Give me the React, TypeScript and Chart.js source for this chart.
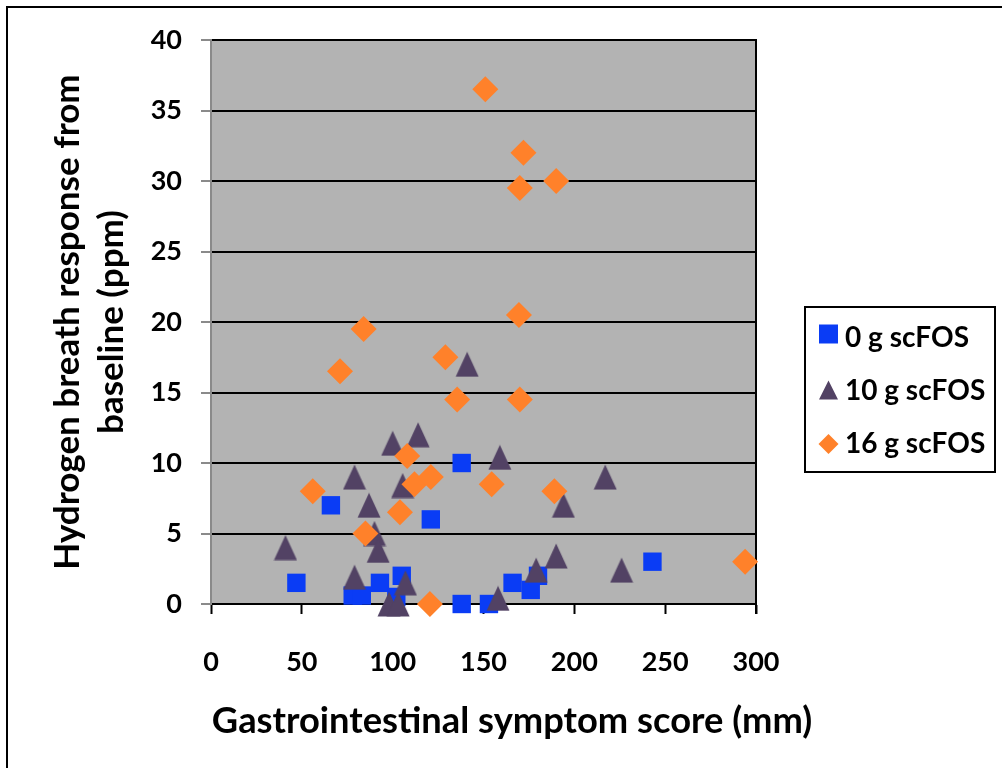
import React, { useEffect, useRef } from "react";
import { Chart, registerables } from "chart.js";

Chart.register(...registerables);

const seriesLabels = ["0 g scFOS", "10 g scFOS", "16 g scFOS"];
const seriesColors = ["#0A3CF5", "#524264", "#FF812A"];

const xTitle = "Gastrointestinal symptom score (mm)";
const yTitle = ["Hydrogen breath response from", "baseline (ppm)"];

const xTickValues = [0, 50, 100, 150, 200, 250, 300];
const yTickValues = [0, 5, 10, 15, 20, 25, 30, 35, 40];

const fos0X = [47, 66, 78, 83, 93, 102, 105, 121, 138, 138, 153, 166, 176, 180, 243];
const fos0Y = [1.5, 7, 0.6, 0.6, 1.5, 0.5, 2.0, 6, 10, 0, 0, 1.5, 1.0, 2.0, 3];

const fos10X = [41, 79, 79, 87, 90, 92, 98, 100, 103, 105.5, 107, 114, 141, 158, 159, 179, 190, 194, 217, 226];
const fos10Y = [4, 9, 1.9, 7, 5, 3.8, 0, 11.4, 0, 8.4, 1.5, 12, 17, 0.4, 10.4, 2.4, 3.4, 7, 9, 2.4];

const fos16X = [56, 71, 84, 85, 104, 108, 112, 120.5, 121, 129, 135.5, 151, 154.5, 169.5, 170, 170, 172, 189, 190, 294];
const fos16Y = [8, 16.5, 19.5, 5, 6.5, 10.5, 8.5, 0, 9, 17.5, 14.5, 36.5, 8.5, 20.5, 14.5, 29.5, 32, 8, 30, 3];

const FONT = "Lato";

function makeTriangle(w: number, h: number, color: string) {
  const c = document.createElement("canvas");
  c.width = w;
  c.height = h;
  const ctx = c.getContext("2d")!;
  ctx.fillStyle = color;
  ctx.beginPath();
  ctx.moveTo(w / 2, 0.5);
  ctx.lineTo(w - 0.5, h - 0.5);
  ctx.lineTo(0.5, h - 0.5);
  ctx.closePath();
  ctx.fill();
  return c;
}

const zip = (xs: number[], ys: number[]) => xs.map((x, i) => ({ x, y: ys[i] }));

export default function App() {
  const ref = useRef<HTMLCanvasElement | null>(null);

  useEffect(() => {
    document.body.style.margin = "0";
    const canvas = ref.current!;
    const tri = makeTriangle(24, 26, seriesColors[1]);

    const decor = {
      id: "decor",
      beforeDraw(chart: any) {
        const { ctx, chartArea: a } = chart;
        ctx.save();
        ctx.fillStyle = "#B3B3B3";
        ctx.fillRect(a.left, a.top, a.right - a.left, a.bottom - a.top);
        ctx.restore();
      },
      beforeDatasetsDraw(chart: any) {
        const { ctx, chartArea: a } = chart;
        ctx.save();
        ctx.strokeStyle = "#000";
        ctx.lineWidth = 2;
        ctx.beginPath();
        ctx.moveTo(a.right, a.top - 1);
        ctx.lineTo(a.right, a.bottom + 10);
        ctx.stroke();
        ctx.restore();
      },
      afterDraw(chart: any) {
        const { ctx } = chart;
        ctx.save();
        // outer frame (left and top edges)
        ctx.strokeStyle = "#000";
        ctx.lineWidth = 2;
        ctx.beginPath();
        ctx.moveTo(7, 768);
        ctx.lineTo(7, 7);
        ctx.lineTo(1002, 7);
        ctx.stroke();
        // x axis title
        ctx.fillStyle = "#000";
        ctx.font = `bold 36.3px ${FONT}`;
        ctx.textAlign = "center";
        ctx.textBaseline = "middle";
        ctx.fillText(xTitle, 512, 721);
        // legend box
        ctx.fillStyle = "#fff";
        ctx.fillRect(805, 307, 190, 165);
        ctx.strokeRect(805, 307, 190, 165);
        const rows = [334, 390, 444];
        const base = [347, 400, 453];
        const mx = 828.5;
        chart.data.datasets.forEach((ds: any, i: number) => {
          const cy = rows[i];
          ctx.fillStyle = seriesColors[i];
          ctx.beginPath();
          if (i === 0) {
            ctx.rect(mx - 9.5, cy - 9.5, 19, 19);
          } else if (i === 1) {
            ctx.moveTo(mx, cy - 9.5);
            ctx.lineTo(mx + 9.5, cy + 9.5);
            ctx.lineTo(mx - 9.5, cy + 9.5);
            ctx.closePath();
          } else {
            ctx.moveTo(mx, cy - 10);
            ctx.lineTo(mx + 10, cy);
            ctx.lineTo(mx, cy + 10);
            ctx.lineTo(mx - 10, cy);
            ctx.closePath();
          }
          ctx.fill();
          ctx.fillStyle = "#000";
          ctx.font = `bold 28px ${FONT}`;
          ctx.textAlign = "left";
          ctx.textBaseline = "alphabetic";
          ctx.fillText(ds.label, 845, base[i]);
        });
        ctx.restore();
      },
    };

    const chart = new Chart(canvas, {
      type: "scatter",
      data: {
        datasets: [
          {
            label: seriesLabels[0],
            data: zip(fos0X, fos0Y),
            pointStyle: "rect",
            pointRadius: 13,
            pointBackgroundColor: seriesColors[0],
            pointBorderWidth: 0,
            order: 3,
            clip: false,
          },
          {
            label: seriesLabels[1],
            data: zip(fos10X, fos10Y),
            pointStyle: tri,
            pointRadius: 13,
            pointBackgroundColor: seriesColors[1],
            pointBorderWidth: 0,
            order: 2,
            clip: false,
          },
          {
            label: seriesLabels[2],
            data: zip(fos16X, fos16Y),
            pointStyle: "rectRot",
            pointRadius: 13,
            pointBackgroundColor: seriesColors[2],
            pointBorderWidth: 0,
            order: 1,
            clip: false,
          },
        ] as any,
      },
      options: {
        animation: false,
        responsive: false,
        devicePixelRatio: 1,
        layout: { padding: { top: 40, left: 0, right: 246, bottom: 0 } },
        plugins: {
          legend: { display: false },
          tooltip: { enabled: false },
        },
        scales: {
          x: {
            type: "linear",
            min: 0,
            max: 300,
            afterBuildTicks: (s: any) => {
              s.ticks = xTickValues.map((v) => ({ value: v }));
            },
            afterFit: (s: any) => {
              s.height = 164;
              s.paddingLeft = 0;
              s.paddingRight = 0;
            },
            ticks: {
              color: "#000",
              padding: 35,
              font: { family: FONT, weight: "bold", size: 27, lineHeight: 1 },
              maxRotation: 0,
            },
            grid: {
              display: true,
              drawOnChartArea: false,
              drawTicks: true,
              tickLength: 10,
              tickColor: "#000",
              tickWidth: 2,
            },
            border: { color: "#000", width: 2 },
            title: { display: false },
          },
          y: {
            type: "linear",
            min: 0,
            max: 40,
            afterBuildTicks: (s: any) => {
              s.ticks = yTickValues.map((v) => ({ value: v }));
            },
            afterFit: (s: any) => {
              s.width = 211;
              s.paddingTop = 0;
              s.paddingBottom = 0;
            },
            ticks: {
              color: "#000",
              padding: 19,
              font: { family: FONT, weight: "bold", size: 27, lineHeight: 1 },
            },
            grid: {
              color: "#000",
              lineWidth: 2,
              drawTicks: true,
              tickLength: 10,
              tickColor: "#8A8A8A",
              tickWidth: 2,
            },
            border: { color: "#8A8A8A", width: 2 },
            title: {
              display: true,
              text: yTitle,
              color: "#000",
              font: { family: FONT, weight: "bold", size: 35, lineHeight: 1.257 },
              padding: { top: 46, bottom: 0 },
            },
          },
        },
      },
      plugins: [decor],
    } as any);

    return () => chart.destroy();
  }, []);

  return <canvas ref={ref} width={1002} height={768} style={{ display: "block", width: 1002, height: 768 }} />;
}
